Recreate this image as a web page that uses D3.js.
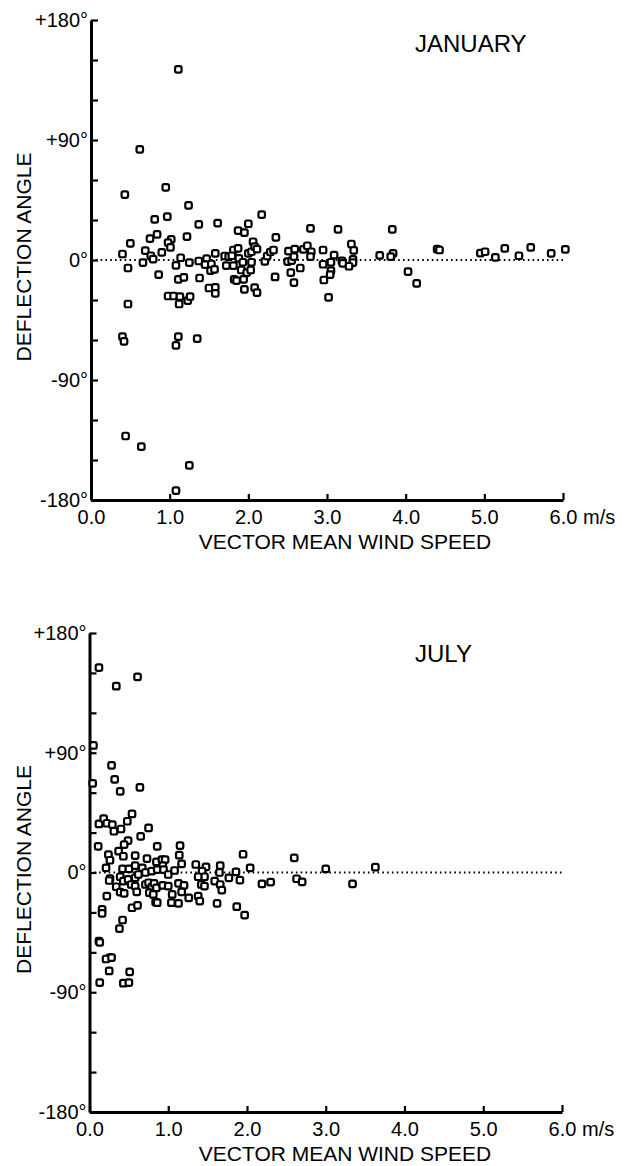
<!DOCTYPE html>
<html>
<head>
<meta charset="utf-8">
<script src="https://cdn.jsdelivr.net/npm/d3@7"></script>
<style>
  body { margin: 0; background: #fff; }
  svg { display: block; font-family: "Liberation Sans", Arial, sans-serif; }
</style>
</head>
<body>
<script>
// [wind speed (m/s), deflection angle (deg)]
var janPoints = [
  [0.43, 49], [0.62, 83], [1.11, 143], [0.95, 54.5], [1.24, 41], [0.81, 30.5], [0.97, 32.5],
  [1.37, 26.7], [1.61, 27.7], [2.0, 27.2], [2.17, 34], [1.87, 22], [1.95, 20.5], [0.84, 19.2],
  [0.75, 16], [1.02, 15.5], [0.98, 13], [1.01, 9.5], [1.22, 17.5], [0.50, 12.5], [0.40, 4.5],
  [0.69, 7], [0.76, 3.2], [0.79, 0.7], [0.90, 5.7], [0.66, -2], [0.47, -6], [0.86, -11],
  [1.14, 1.7], [1.08, -4], [1.25, -2], [1.11, -14.5], [1.18, -13], [1.38, -13.5], [1.37, -0.75],
  [1.47, 1], [1.45, -3.5], [1.58, 5], [1.53, -3], [1.52, -8], [1.57, -7], [1.50, -21],
  [1.58, -20.5], [1.58, -25], [0.98, -27], [1.05, -27], [1.13, -27.5], [1.12, -33], [1.23, -30.5],
  [1.26, -27.5], [0.47, -33], [0.40, -57.5], [0.42, -61], [1.11, -57.5], [1.08, -64], [1.35, -59],
  [1.70, 3], [1.75, 2.5], [1.81, 7.5], [1.87, 8.7], [1.79, 3.2], [1.88, 1.2], [1.72, -4.2],
  [1.81, -4.2], [1.93, -1.7], [1.91, -7.5], [1.98, -9.5], [2.03, -7.5], [2.04, -1.7], [2.0, 5],
  [2.04, 6.2], [2.06, 13.7], [2.08, 10], [2.11, 8.2], [1.82, -14.5], [1.85, -15.5], [1.94, -14.5],
  [1.95, -22], [2.08, -20.7], [2.11, -24.5], [2.21, -1], [2.24, 3], [2.28, 6], [2.32, 7.5],
  [2.35, 17], [2.34, -12.7], [2.51, 6.7], [2.50, -1.2], [2.55, -0.5], [2.59, 8.2], [2.58, 2.5],
  [2.54, -9.5], [2.58, -17], [2.66, -6], [2.70, 8], [2.75, 10.7], [2.79, 23.7], [2.80, 6.2],
  [2.79, 2.5], [2.95, 7.5], [2.95, -3.2], [3.05, -1.7], [3.05, -8], [3.04, -11], [2.96, -15],
  [3.02, -28], [3.09, 3.7], [3.14, 23], [3.19, -0.7], [3.20, -2.5], [3.31, 12], [3.34, 7.2],
  [3.33, 0.5], [3.33, -2], [3.28, -4.7], [3.67, 3.5], [3.83, 23], [3.84, 5], [3.81, 2.5],
  [4.03, -8.7], [4.14, -17.5], [4.40, 8.2], [4.43, 7.5], [4.95, 5.2], [5.01, 6.2], [5.14, 2],
  [5.26, 8.7], [5.44, 3.2], [5.59, 9.5], [5.85, 5], [6.03, 8],
  [0.44, -132], [0.64, -140], [1.25, -154], [1.08, -173]
];

var julPoints = [
  [0.12, 154], [0.34, 140], [0.61, 147], [0.05, 95.5], [0.04, 67], [0.28, 80.5], [0.32, 70],
  [0.39, 61], [0.64, 64], [0.54, 44], [0.48, 38.5], [0.12, 36.5], [0.18, 40.5], [0.22, 37],
  [0.29, 36], [0.31, 31], [0.40, 32.7], [0.75, 33.5], [0.65, 27.2], [0.49, 24], [0.44, 21],
  [0.11, 19.7], [0.37, 16], [0.24, 13.5], [0.26, 9.2], [0.43, 12.2], [0.58, 12.7], [0.86, 19.7],
  [1.15, 20.2], [1.14, 13], [0.73, 10.5], [0.85, 8], [0.92, 9.7], [0.96, 9.7], [0.93, 5.2],
  [1.17, 6.5], [1.35, 6], [1.48, 4.2], [1.66, 5.2], [1.95, 13.7], [2.04, 3.5], [0.21, 3.5],
  [0.42, 2.7], [0.50, 2.7], [0.58, 5.2], [0.67, 3.5], [0.71, 0], [0.79, 1], [0.86, 2.2],
  [0.94, 2.2], [1.0, -1.5], [1.08, 1.5], [1.43, 1], [1.46, -3.2], [1.65, 0], [1.86, 0.5],
  [0.26, -4.5], [0.25, -6], [0.39, -3.2], [0.43, -6.5], [0.49, -5.2], [0.53, -9], [0.58, -4],
  [0.62, -1.5], [0.34, -10.7], [0.39, -14.7], [0.44, -15.7], [0.58, -10.2], [0.60, -14.5],
  [0.71, -9], [0.75, -7.7], [0.79, -10.7], [0.82, -8.2], [0.85, -11.5], [0.76, -15.2],
  [0.81, -16.5], [0.84, -22.2], [0.86, -22.7], [0.93, -9.7], [1.0, -10.2], [1.05, -16.5],
  [1.04, -22.7], [1.13, -23.2], [1.13, -8.2], [1.20, -9.7], [1.17, -14.5], [1.26, -19],
  [1.38, -3.2], [1.42, -9], [1.46, -10.2], [1.38, -17.7], [1.40, -21.5], [1.59, -6.5],
  [1.66, -9], [1.68, -13.2], [1.62, -23.2], [1.77, -4], [1.87, -25.7], [1.91, -5.7], [1.97, -32],
  [2.19, -8.5], [2.30, -7.2], [2.60, 11], [2.63, -4.7], [2.70, -7], [3.0, 2.7], [3.34, -8.5],
  [3.63, 4],
  [0.22, -17.7], [0.16, -27.7], [0.16, -30.7], [0.42, -35.7], [0.38, -42.2], [0.54, -26.5],
  [0.61, -24.7], [0.12, -51.5], [0.13, -52.5], [0.26, -64], [0.21, -65], [0.28, -64],
  [0.25, -74], [0.13, -82.7], [0.51, -74.7], [0.43, -83.2], [0.50, -82.7]
];

var speedTicks = [0, 1, 2, 3, 4, 5, 6];
var angleTicks = [-180, -150, -120, -90, -60, -30, 0, 30, 60, 90, 120, 150, 180];
var angleLabels = {"180": "+180°", "90": "+90°", "0": "0°", "-90": "-90°", "-180": "-180°"};

var svg = d3.select('body').append('svg')
  .attr('width', 632)
  .attr('height', 1166);

function drawPanel(opts) {
  var x = d3.scaleLinear().domain([0, 6]).range([opts.left, opts.right]);
  var y = d3.scaleLinear().domain([-180, 180]).range([opts.bottom, opts.top]);
  var g = svg.append('g');

  // zero reference line
  g.append('line')
    .attr('x1', x(0)).attr('x2', x(6))
    .attr('y1', y(0)).attr('y2', y(0))
    .style('stroke', '#000')
    .style('stroke-width', 2)
    .style('stroke-dasharray', '1.6,3.2');

  var yAxis = g.append('g')
    .attr('transform', 'translate(' + x(0) + ',0)')
    .call(d3.axisLeft(y).tickValues(angleTicks).tickSize(-7).tickSizeOuter(0).tickPadding(3)
      .tickFormat(function(d) { return angleLabels[d] || ''; }));

  var xAxis = g.append('g')
    .attr('transform', 'translate(0,' + y(-180) + ')')
    .call(d3.axisBottom(x).tickValues(speedTicks).tickSize(-6).tickSizeOuter(0).tickPadding(10)
      .tickFormat(d3.format('.1f')));

  [yAxis, xAxis].forEach(function(a) {
    a.select('.domain').style('stroke', '#000').style('stroke-width', 3);
    a.selectAll('.tick line').style('stroke', '#000').style('stroke-width', 2.2);
    a.selectAll('.tick text')
      .style('fill', '#000')
      .style('font-size', '20px');
  });
  xAxis.select('.tick:last-of-type line').attr('y2', -7);

  g.append('text')
    .attr('x', x(6) + 20)
    .attr('y', y(-180) + 10)
    .attr('dy', '0.71em')
    .style('font-size', '20px')
    .text('m/s');

  g.append('text')
    .attr('x', 345)
    .attr('y', y(-180) + 49)
    .attr('text-anchor', 'middle')
    .style('font-size', '21px')
    .text('VECTOR MEAN WIND SPEED');

  g.append('text')
    .attr('transform', 'translate(31,' + (y(0) - 3) + ') rotate(-90)')
    .attr('text-anchor', 'middle')
    .style('font-size', '21px')
    .text('DEFLECTION ANGLE');

  g.append('text')
    .attr('x', 415)
    .attr('y', opts.top + opts.titleDy)
    .style('font-size', '24px')
    .text(opts.title);

  var s = 6.5;
  g.append('g').selectAll('rect')
    .data(opts.points)
    .enter()
    .append('rect')
    .attr('x', function(d) { return x(d[0]) - s / 2; })
    .attr('y', function(d) { return y(d[1]) - s / 2; })
    .attr('width', s)
    .attr('height', s)
    .attr('rx', 1.8)
    .style('fill', '#fff')
    .style('stroke', '#000')
    .style('stroke-width', 2.2);
}

drawPanel({points: janPoints, title: 'JANUARY', left: 91, right: 563, top: 20, bottom: 500, titleDy: 32});
drawPanel({points: julPoints, title: 'JULY', left: 89.5, right: 562, top: 633, bottom: 1112, titleDy: 29});
</script>
</body>
</html>
